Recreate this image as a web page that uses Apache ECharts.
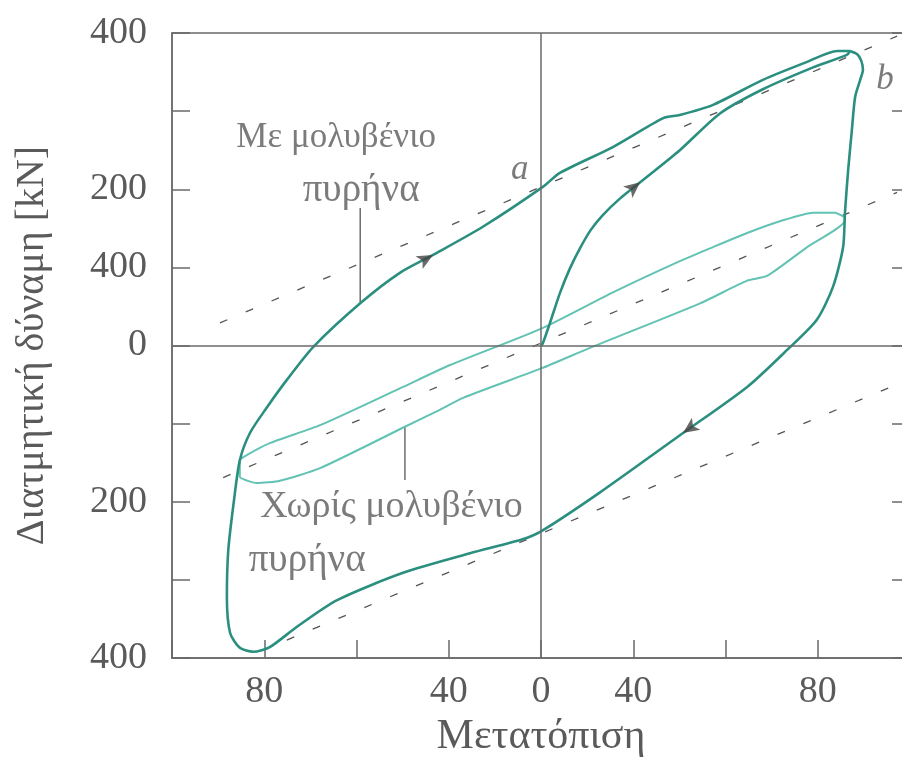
<!DOCTYPE html>
<html><head><meta charset="utf-8">
<script src="https://cdn.jsdelivr.net/npm/echarts@6/dist/echarts.min.js"></script>
<style>html,body{margin:0;padding:0;background:#fff}#c{width:902px;height:764px}</style>
</head><body><div id="c"></div>
<script>
// ---- data (axis units) ----
const xTickValues = [-80,-60,-40,-20,0,20,40,60,80];
const xTickLabels = ['', '80', '', '40', '0', '40', '', '80', ''];
const yTickValues = [400,300,200,100,0,-100,-200,-300,-400];
const yTickLabels = ['400','','200','400','0','','200','','400'];

const initialLoad = [[0,0],[0.4,3],[1.95,29],[4.1,67],[6.3,99],[8.5,125],[10.8,148],[13.4,167],[17.1,188],[21.5,209],[30.1,250],[38.8,297],[48.1,328],[59,356],[66.3,372],[67,377]];
const leadCoreLoop = [[67,377],[68.5,373],[69.4,365],[69.8,353],[69.2,340],[68.1,318],[67.4,276],[66.6,225],[65.9,170],[65.5,126],[63.3,75],[59.8,33],[53.3,-6],[44.7,-53],[30.8,-112],[12.8,-188],[0,-238],[-4,-248],[-15.4,-266],[-29.9,-291],[-44.2,-326],[-52.9,-360],[-58.8,-386],[-62.4,-392],[-65.3,-387],[-67.4,-368],[-68.1,-322],[-67.8,-262],[-66.6,-200],[-65.3,-147],[-63.1,-112],[-59.4,-79],[-55.1,-44],[-49.4,-2],[-39.2,54],[-30.6,93],[-23.4,116],[-12.6,152],[0.4,203],[4.1,221],[15.6,254],[26.5,291],[30.1,295],[37.3,308],[48.1,340],[57.7,363],[64.2,377],[67,377]];
const noCoreLoop = [[65.9,164],[63.7,170],[59,170],[51.8,159],[44.7,144],[37.3,126],[30.1,108],[15.6,68],[0.2,22],[-19.7,-25],[-29.9,-53],[-47.9,-102],[-58.8,-125],[-63.7,-140],[-65.3,-147],[-65.3,-168],[-63.7,-173],[-61.6,-176],[-56.6,-173],[-47.9,-157],[-29.5,-104],[-22.5,-84],[-16.9,-67],[0.2,-29],[10.6,-3],[34.5,54],[44.7,83],[49,89],[57.7,126],[65.9,160],[65.9,164]];
const dashUpper = [[-69.6,29],[77.2,396]];
const dashMiddle = [[-68.9,-169],[77.2,196]];
const dashLower = [[-55.1,-377],[76.3,-52]];
const leaderLead = [[-39.2,176],[-39.2,54]];
const leaderNoLead = [[-29.5,-104],[-29.5,-172]];
const arrowPoints = [[-23.4,116],[21.5,209],[30.8,-112]];
const arrowAngles = [-61,-51,125];
const textItems = [
  {text:'Με μολυβένιο', pos:[-44.4,266], italic:false, size:35},
  {text:'πυρήνα', pos:[-39,198], italic:false, size:39},
  {text:'Χωρίς μολυβένιο', pos:[-32.4,-207], italic:false, size:38},
  {text:'πυρήνα', pos:[-50.7,-275], italic:false, size:39},
  {text:'a', pos:[-4.6,225], italic:true, size:35},
  {text:'b', pos:[74.6,340], italic:true, size:35}
];

const FONT = "'Liberation Serif','DejaVu Serif',serif";
const TXT = '#5a5a5a';
const AX = '#6a6a6a';
const DARK = '#2b8f80';
const LIGHT = '#62c2b3';

const chart = echarts.init(document.getElementById('c'), null, {renderer:'canvas'});
const dashStyle = {color:'#555', width:1.3, type:[8,20]};
const lineSeries = (data, style, z) => ({type:'line', data, showSymbol:false, symbol:'none', lineStyle:style, z, silent:true, animation:false});

chart.setOption({
  animation:false,
  grid:{left:172, right:-8, top:33, bottom:106, show:true, borderColor:AX, borderWidth:1.5, containLabel:false, outerBoundsMode:'none'},
  xAxis:{type:'value', min:-80, max:80, interval:20,
    axisLine:{show:true, onZero:false, lineStyle:{color:AX, width:1.5}},
    axisTick:{show:true, inside:true, length:18, lineStyle:{color:AX, width:1.5}},
    splitLine:{show:false},
    axisLabel:{margin:15, color:TXT, fontFamily:FONT, fontSize:38,
      formatter:v=>{const i=xTickValues.indexOf(v); return i>=0?xTickLabels[i]:'';}},
    name:'Μετατόπιση', nameLocation:'middle', nameGap:58,
    nameTextStyle:{color:TXT, fontFamily:FONT, fontSize:42}
  },
  yAxis:[{type:'value', min:-400, max:400, interval:100, position:'left',
    axisLine:{show:true, onZero:false, lineStyle:{color:AX, width:1.5}},
    axisTick:{show:true, inside:true, length:18, lineStyle:{color:AX, width:1.5}},
    splitLine:{show:false},
    axisLabel:{margin:25, color:TXT, fontFamily:FONT, fontSize:38,
      formatter:v=>{const i=yTickValues.indexOf(v); return i>=0?yTickLabels[i]:'';}},
    name:'Διατμητική δύναμη [kN]', nameLocation:'middle', nameGap:120, nameRotate:90,
    nameTextStyle:{color:TXT, fontFamily:FONT, fontSize:40}
  },{type:'value', min:-400, max:400, interval:100, position:'right',
    axisLine:{show:true, onZero:false, lineStyle:{color:AX, width:1.5}},
    axisTick:{show:true, inside:true, length:18, lineStyle:{color:AX, width:1.5}},
    splitLine:{show:false}, axisLabel:{show:false}
  }],
  series:[
    Object.assign(lineSeries(dashUpper, dashStyle, 2), {
      markLine:{silent:true, symbol:['none','none'], label:{show:false},
        lineStyle:{color:AX, width:1.5, type:'solid'},
        data:[{xAxis:0},{yAxis:0}]}}),
    lineSeries(dashMiddle, dashStyle, 2),
    lineSeries(dashLower, dashStyle, 2),
    lineSeries(leaderLead, {color:'#555', width:1.3}, 2),
    lineSeries(leaderNoLead, {color:'#555', width:1.3}, 2),
    Object.assign(lineSeries(noCoreLoop, {color:LIGHT, width:2}, 3), {smooth:0.2}),
    Object.assign(lineSeries(initialLoad, {color:DARK, width:2.6}, 4), {smooth:0.25}),
    Object.assign(lineSeries(leadCoreLoop, {color:DARK, width:2.6}, 4), {smooth:0.25}),
    {type:'scatter', silent:true, z:6, symbol:'arrow', symbolSize:[11,16],
      itemStyle:{color:'#444'},
      data:arrowPoints.map((p,i)=>({value:p, symbolRotate:arrowAngles[i]}))},
    {type:'scatter', silent:true, z:6, symbolSize:0,
      data:textItems.map(t=>({value:t.pos, label:{show:true, position:'inside',
        formatter:t.text, color:TXT, fontFamily:FONT, fontSize:t.size,
        fontStyle:t.italic?'italic':'normal', align:'center', verticalAlign:'middle'}}))}
  ]
});
</script></body></html>
